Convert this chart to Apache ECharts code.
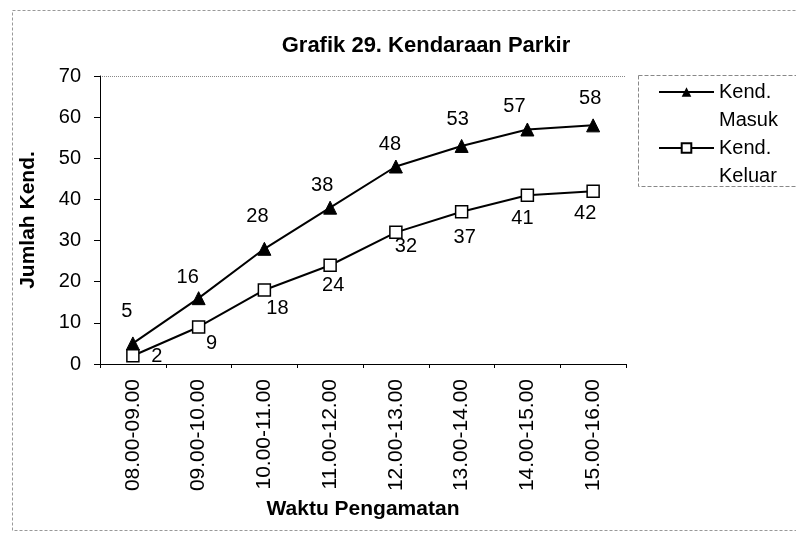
<!DOCTYPE html>
<html>
<head>
<meta charset="utf-8">
<script src="https://cdn.jsdelivr.net/npm/echarts@6/dist/echarts.min.js"></script>
<style>html,body{margin:0;padding:0;background:#fff}#c{width:796px;height:533px}</style>
</head>
<body>
<div id="c"></div>
<script>
var categories = ['08.00-09.00','09.00-10.00','10.00-11.00','11.00-12.00','12.00-13.00','13.00-14.00','14.00-15.00','15.00-16.00'];
var masuk = [5,16,28,38,48,53,57,58];
var keluar = [2,9,18,24,32,37,41,42];
var yTicks = [0,10,20,30,40,50,60,70];
var seriesNames = ['Kend. Masuk','Kend. Keluar'];
var titleText = 'Grafik 29. Kendaraan Parkir';
var yName = 'Jumlah Kend.';
var xName = 'Waktu Pengamatan';

// label nudges (style only)
var masukLabelOffsets = [[-6,-6],[-11,5],[-7,-6],[-8,4],[-6,4],[-4,0],[-13,3],[-3,-1]];
var keluarLabelOffsets = [[24,-18],[13,-2],[13,0],[3,1],[10,-5],[3,7],[-5,4],[-8,4]];
var F = 'Liberation Sans, Arial, sans-serif';
var chart = echarts.init(document.getElementById('c'), null, {renderer:'canvas'});
chart.setOption({
  animation:false,
  backgroundColor:'#fff',
  title:{text:titleText,left:421,top:30,textAlign:'center',textStyle:{fontFamily:F,fontWeight:'bold',fontSize:22,color:'#000'}},
  grid:{left:100,right:170,top:76,bottom:169,containLabel:false,outerBoundsMode:'none'},
  legend:{
    orient:'vertical',left:653,top:45,itemWidth:55,itemHeight:12,itemGap:-28,
    textStyle:{fontFamily:F,fontSize:20,color:'#000',lineHeight:28},
    formatter:function(n){return '\n'+n.replace(' ','\n');},
    data:[{name:seriesNames[0]},{name:seriesNames[1]}]
  },
  xAxis:{
    type:'category',data:categories,boundaryGap:true,
    name:xName,nameLocation:'middle',nameGap:135,nameMoveOverlap:false,
    nameTextStyle:{fontFamily:F,fontWeight:'bold',fontSize:21,color:'#000'},
    axisLine:{lineStyle:{color:'#000',width:1}},
    axisTick:{show:true,alignWithLabel:false,length:4,lineStyle:{color:'#000'}},
    axisLabel:{rotate:90,fontFamily:F,fontSize:21,color:'#000',margin:15,interval:0},
    splitLine:{show:false}
  },
  yAxis:{
    type:'value',min:0,max:70,interval:10,
    name:yName,nameLocation:'middle',nameGap:61,nameMoveOverlap:false,
    nameTextStyle:{fontFamily:F,fontWeight:'bold',fontSize:21,color:'#000'},
    axisLine:{show:true,lineStyle:{color:'#000',width:1}},
    axisTick:{show:true,length:6,lineStyle:{color:'#000'}},
    axisLabel:{fontFamily:F,fontSize:20,color:'#000',margin:19,
      formatter:function(v){return yTicks.indexOf(v)>=0?String(v):'';}},
    splitLine:{show:false}
  },
  series:[
    {name:seriesNames[0],type:'line',
     data:masuk.map(function(v,i){return {value:v,label:{offset:masukLabelOffsets[i]}};}),
     symbol:'triangle',symbolSize:13,
     lineStyle:{color:'#000',width:2},itemStyle:{color:'#000',borderColor:'#000'},
     label:{show:true,position:'top',distance:9,fontFamily:F,fontSize:20,color:'#000'}},
    {name:seriesNames[1],type:'line',
     data:keluar.map(function(v,i){return {value:v,label:{offset:keluarLabelOffsets[i]}};}),
     symbol:'rect',symbolSize:12,
     lineStyle:{color:'#000',width:2},itemStyle:{color:'#fff',borderColor:'#000',borderWidth:1.5},
     label:{show:true,position:'bottom',distance:2,fontFamily:F,fontSize:20,color:'#000'}}
  ],
  graphic:[
    {type:'rect',shape:{x:12.5,y:10.5,width:800,height:520},style:{fill:'none',stroke:'#999',lineWidth:1,lineDash:[3,2]},silent:true,z:-1},
    {type:'line',shape:{x1:100,y1:76.5,x2:626,y2:76.5},style:{stroke:'#888',lineWidth:1,lineDash:[1,1]},silent:true},
    {type:'rect',shape:{x:638.5,y:75.5,width:170,height:111},style:{fill:'none',stroke:'#888',lineWidth:1,lineDash:[4,2]},silent:true}
  ]
});
</script>
</body>
</html>
